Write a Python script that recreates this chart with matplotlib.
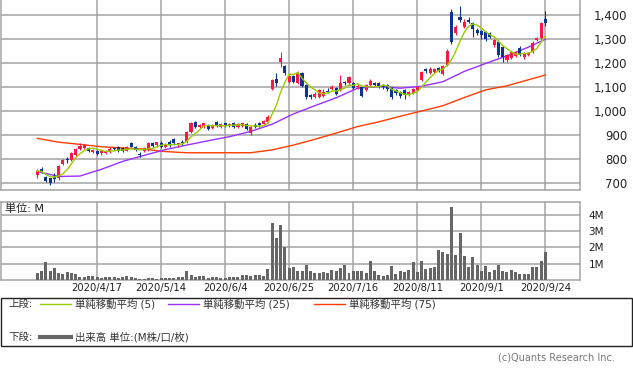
import numpy as np
import pandas as pd
import matplotlib
matplotlib.use("Agg")
import matplotlib.pyplot as plt
from matplotlib.patches import Rectangle

plt.rcParams['font.family'] = ['DejaVu Sans', 'Noto Sans CJK JP']

# ---- data ----
date_labels = ["2020/4/17", "2020/5/14", "2020/6/4", "2020/6/25",
               "2020/7/16", "2020/8/11", "2020/9/1", "2020/9/24"]
date_pos = [14, 29, 44, 59, 74, 89, 104, 119]

opens = [733, 757, 724, 719, 727, 720, 780, 800, 797, 818,
         840, 845, 845, 830, 832, 823, 826, 830, 845, 851,
         845, 835, 866, 851, 822, 835, 837, 865, 858, 868,
         851, 872, 882, 858, 870, 872, 914, 955, 935, 935,
         938, 928, 955, 935, 948, 937, 952, 935, 938, 945,
         907, 942, 950, 945, 955, 1092, 1135, 1203, 1188, 1122,
         1145, 1117, 1158, 1108, 1065, 1058, 1058, 1062, 1082, 1090,
         1094, 1087, 1122, 1115, 1115, 1098, 1101, 1087, 1108, 1115,
         1115, 1110, 1108, 1094, 1087, 1080, 1087, 1067, 1075, 1087,
         1130, 1175, 1160, 1162, 1180, 1155, 1192, 1413, 1325, 1393,
         1350, 1379, 1365, 1337, 1333, 1329, 1324, 1275, 1289, 1268,
         1212, 1220, 1230, 1264, 1227, 1233, 1247, 1296, 1303, 1382]
highs = [758, 767, 730, 722, 740, 775, 800, 810, 828, 846,
         866, 862, 850, 842, 836, 836, 838, 848, 850, 855,
         850, 855, 872, 855, 830, 850, 870, 870, 872, 874,
         866, 878, 888, 868, 878, 918, 955, 960, 946, 952,
         945, 945, 958, 950, 952, 950, 956, 950, 952, 948,
         938, 950, 955, 962, 982, 1132, 1160, 1246, 1192, 1150,
         1152, 1165, 1162, 1112, 1070, 1080, 1092, 1090, 1095, 1108,
         1098, 1150, 1126, 1146, 1120, 1112, 1106, 1112, 1132, 1120,
         1120, 1114, 1112, 1098, 1092, 1085, 1090, 1085, 1096, 1104,
         1168, 1180, 1182, 1180, 1185, 1190, 1258, 1425, 1360, 1437,
         1385, 1390, 1372, 1345, 1338, 1335, 1330, 1300, 1295, 1272,
         1236, 1252, 1250, 1270, 1244, 1245, 1290, 1310, 1370, 1415]
lows = [720, 740, 705, 692, 705, 712, 775, 785, 793, 812,
        836, 840, 828, 826, 815, 818, 820, 826, 836, 830,
        828, 832, 848, 832, 808, 830, 833, 850, 852, 846,
        846, 852, 860, 852, 860, 868, 910, 930, 930, 930,
        920, 924, 935, 930, 935, 932, 930, 930, 934, 922,
        898, 930, 935, 940, 950, 1088, 1105, 1182, 1150, 1115,
        1115, 1112, 1098, 1052, 1048, 1054, 1054, 1058, 1074, 1086,
        1065, 1082, 1108, 1110, 1090, 1092, 1058, 1082, 1104, 1104,
        1094, 1092, 1084, 1052, 1068, 1056, 1050, 1062, 1070, 1082,
        1125, 1160, 1155, 1158, 1162, 1150, 1188, 1280, 1315, 1370,
        1345, 1365, 1308, 1318, 1300, 1292, 1305, 1268, 1225, 1205,
        1205, 1215, 1225, 1228, 1215, 1228, 1242, 1290, 1298, 1355]
closes = [750, 747, 708, 700, 718, 772, 795, 795, 823, 842,
          856, 857, 834, 837, 820, 832, 834, 843, 841, 835,
          833, 851, 851, 837, 818, 845, 865, 855, 869, 851,
          861, 858, 865, 865, 866, 914, 949, 935, 942, 949,
          925, 939, 939, 945, 940, 945, 935, 945, 948, 926,
          935, 935, 940, 958, 976, 1128, 1117, 1220, 1157, 1146,
          1120, 1158, 1104, 1058, 1057, 1071, 1087, 1080, 1078, 1101,
          1069, 1115, 1115, 1140, 1095, 1106, 1062, 1108, 1126, 1108,
          1100, 1098, 1090, 1057, 1074, 1062, 1065, 1080, 1092, 1100,
          1163, 1165, 1175, 1175, 1168, 1187, 1251, 1288, 1350, 1379,
          1372, 1372, 1340, 1325, 1317, 1298, 1310, 1296, 1233, 1227,
          1233, 1247, 1245, 1233, 1240, 1240, 1285, 1303, 1365, 1365]
volume_m = [0.4, 0.55, 1.1, 0.55, 0.75, 0.4, 0.35, 0.5, 0.4, 0.38,
            0.2, 0.2, 0.25, 0.25, 0.2, 0.15, 0.2, 0.18, 0.18, 0.15,
            0.18, 0.22, 0.18, 0.1, 0.05, 0.08, 0.15, 0.1, 0.08, 0.15,
            0.15, 0.1, 0.15, 0.2, 0.2, 0.55, 0.3, 0.2, 0.22, 0.25,
            0.15, 0.2, 0.2, 0.15, 0.15, 0.2, 0.2, 0.2, 0.3, 0.3,
            0.25, 0.3, 0.3, 0.25, 0.65, 3.48, 2.55, 3.37, 2.04, 0.76,
            0.82, 0.57, 0.55, 0.92, 0.57, 0.45, 0.45, 0.5, 0.45, 0.6,
            0.57, 0.72, 0.92, 0.4, 0.55, 0.55, 0.55, 0.4, 1.17, 0.55,
            0.3, 0.27, 0.3, 0.85, 0.37, 0.55, 0.5, 0.6, 1.1, 0.5,
            1.18, 0.68, 0.72, 0.82, 1.84, 1.74, 1.6, 4.5, 1.55, 2.86,
            1.47, 0.82, 1.43, 0.92, 0.55, 0.86, 0.47, 0.6, 0.92, 0.55,
            0.52, 0.6, 0.5, 0.37, 0.37, 0.37, 0.82, 0.78, 1.18, 1.74]

# longer averages (they start before the first candle)
ma_pos = list(range(0, 120, 5)) + [119]
ma25 = [748, 727, 729, 757, 790, 815, 839, 858, 876, 893, 915, 945, 988,
        1022, 1055, 1095, 1102, 1095, 1103, 1122, 1165, 1198, 1230, 1266, 1299]
ma75 = [886, 870, 861, 851, 846, 841, 831, 826, 826, 826, 826, 838, 858,
        882, 908, 935, 955, 978, 1000, 1022, 1056, 1088, 1105, 1130, 1150]

RED = "#ff1744"
BLUE = "#0b3392"
GRID = "#a3a3a3"
W, H = 633, 375


def px_rect(left, top, right, bottom):
    return [left / W, 1 - bottom / H, (right - left) / W, (bottom - top) / H]


fig = plt.figure(figsize=(W / 100, H / 100), dpi=100)
ax = fig.add_axes(px_rect(1, 0, 580, 190))
axv = fig.add_axes(px_rect(1, 202, 580, 280))

x = np.arange(len(closes))
o = np.array(opens)
c = np.array(closes)
cols = np.where(c >= o, RED, BLUE)

ma5 = pd.Series(closes).rolling(5, min_periods=1).mean()

ax.vlines(x, lows, highs, colors=cols, lw=0.8, zorder=3)
ax.bar(x, np.maximum(np.abs(c - o), 2), bottom=np.minimum(o, c),
       width=0.72, color=cols, zorder=3)
ax.plot(ma_pos, ma75, color="#ff3d00", lw=1.0, zorder=2)
ax.plot(ma_pos, ma25, color="#9b30ff", lw=1.0, zorder=2)
ax.plot(x, ma5, color="#99cc00", lw=1.0, zorder=4)

ax.set_xlim(-8.5, 127.1)
ax.set_ylim(670.8, 1462.5)
ax.set_yticks(range(700, 1401, 100))
ax.set_yticklabels([f"{v:,}" for v in range(700, 1401, 100)], ha="right")
ax.set_xticks(date_pos)
ax.set_xticklabels([])
ax.yaxis.tick_right()
ax.tick_params(length=0, labelsize=8.5, colors="#222222")
ax.tick_params(axis="y", pad=34)
ax.grid(color=GRID, lw=1.1)
ax.set_axisbelow(True)
ax.spines["top"].set_visible(False)

axv.bar(x, volume_m, width=0.7, color="#666666", zorder=3)
axv.set_xlim(-8.5, 127.1)
axv.set_ylim(0, 4.785)
axv.set_yticks([1, 2, 3, 4])
axv.set_yticklabels(["1M", "2M", "3M", "4M"])
axv.set_xticks(date_pos)
axv.set_xticklabels(date_labels)
axv.yaxis.tick_right()
axv.tick_params(axis="y", length=0, labelsize=7.5, pad=6, colors="#222222")
axv.tick_params(axis="x", length=0, labelsize=7.2, pad=2, colors="#222222")
axv.grid(color=GRID, lw=1.1)
axv.set_axisbelow(True)

for a in (ax, axv):
    for s in a.spines.values():
        s.set_color(GRID)
        s.set_linewidth(1.1)

# overlay in pixel coordinates for the free texts and the legend box
ov = fig.add_axes([0, 0, 1, 1])
ov.set_xlim(0, W)
ov.set_ylim(H, 0)
ov.axis("off")
ov.text(5, 209, "単位: M", fontsize=8, va="center", color="#222222")

ov.add_patch(Rectangle((0.5, 298), 631.5, 48, fill=False, ec="#222222", lw=1.0))
ov.text(8, 304, "上段:", fontsize=7.5, va="center", color="#333333")
ov.text(8, 337, "下段:", fontsize=7.5, va="center", color="#333333")
legend_items = [(40, "#99cc00", "単純移動平均 (5)"),
                (168, "#9b30ff", "単純移動平均 (25)"),
                (314, "#ff3d00", "単純移動平均 (75)")]
for x0, col, lab in legend_items:
    ov.plot([x0, x0 + 31], [304, 304], color=col, lw=1.0)
    ov.text(x0 + 35, 304, lab, fontsize=7.5, va="center", color="#333333")
ov.plot([40, 71], [337, 337], color="#666666", lw=3.0)
ov.text(75, 337, "出来高 単位:(M株/口/枚)", fontsize=7.5, va="center",
        color="#333333")
ov.text(615, 358, "(c)Quants Research Inc.", fontsize=7, ha="right",
        va="center", color="#777777")

fig.savefig("out.png", dpi=100)
